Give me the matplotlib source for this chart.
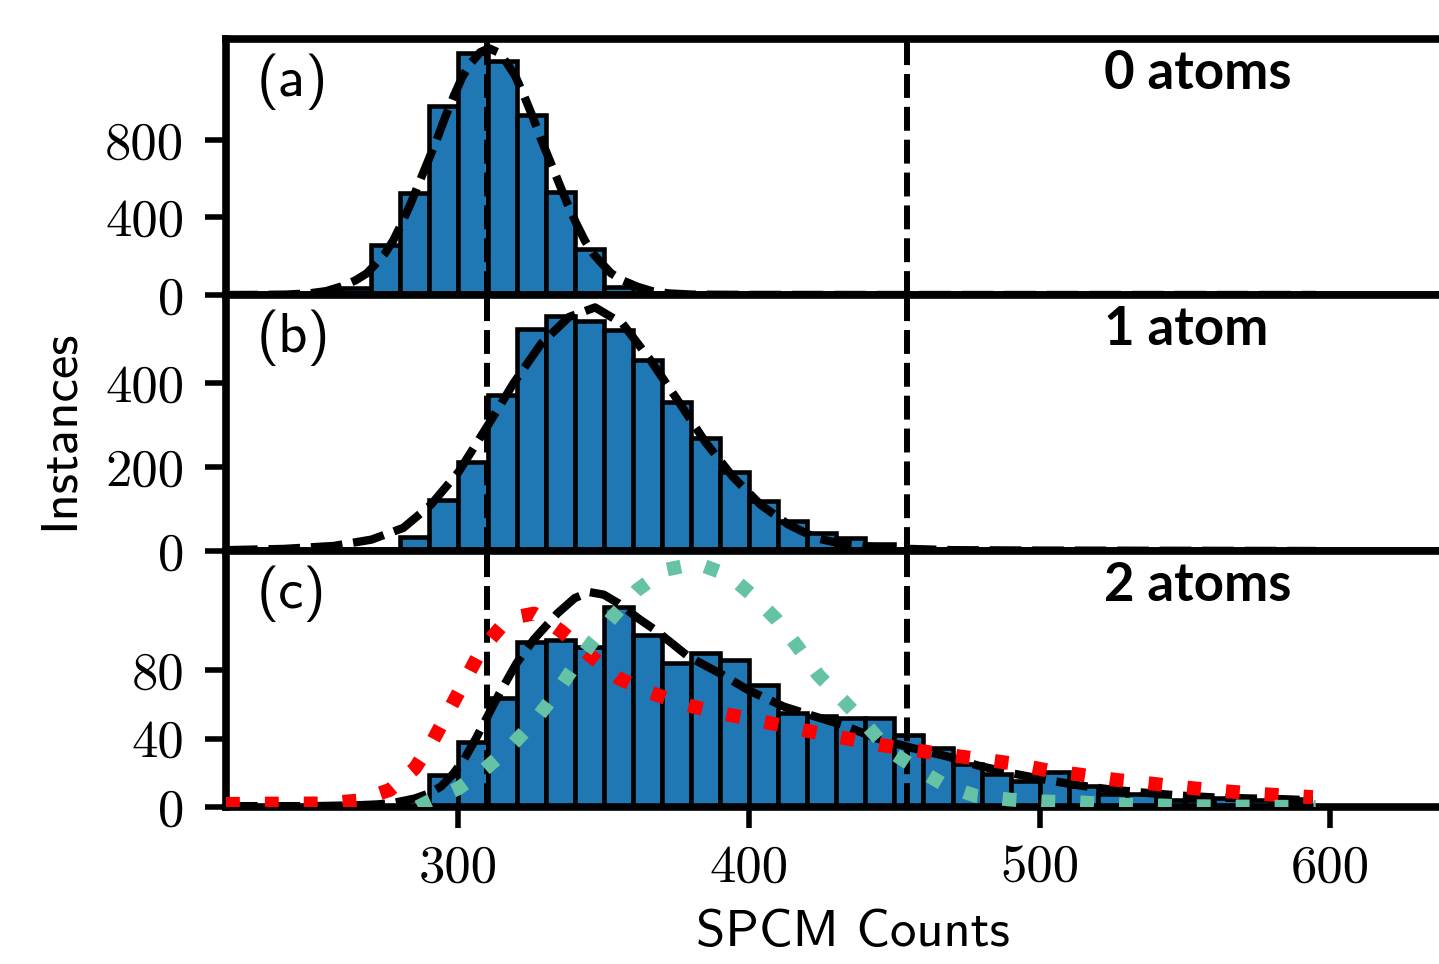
import matplotlib
matplotlib.use("Agg")
import matplotlib.pyplot as plt

plt.rcParams['axes.unicode_minus'] = False

# ---------------- data ----------------
bin_width = 10
# left edges of the histogram bins
bins_a = [250, 260, 270, 280, 290, 300, 310, 320, 330, 340, 350, 360]
counts_a = [2, 35, 258, 525, 972, 1248, 1207, 927, 530, 237, 40, 5]

bins_b = [270, 280, 290, 300, 310, 320, 330, 340, 350, 360, 370, 380, 390,
          400, 410, 420, 430, 440, 450]
counts_b = [3, 34, 121, 213, 372, 529, 559, 547, 527, 455, 354, 270, 188,
            118, 72, 43, 31, 16, 5]

bins_c = [290, 300, 310, 320, 330, 340, 350, 360, 370, 380, 390, 400, 410,
          420, 430, 440, 450, 460, 470, 480, 490, 500, 510, 520, 530, 540,
          550, 560, 570, 580, 590]
counts_c = [18.7, 38.1, 63.4, 96.5, 97.5, 93.6, 117, 100.4, 83.9, 89.7, 85.8,
            71.5, 54.7, 53, 52, 52, 42, 34.5, 25, 19.4, 15, 20.4, 12.2, 7.5,
            7.5, 4, 4, 5.3, 4, 4.5, 0.5]

# fitted curves (x in counts, y in instances)
fit_a_x = [220, 230, 240.5, 248.5, 254.5, 259.5, 264.5, 268.5, 271.5, 274.5,
           277.5, 280.5, 283.5, 286.5, 289.5, 292.5, 295.5, 298.5, 301.5,
           304.5, 307.5, 310.5, 313.5, 316.5, 319.5, 322.5, 325.5, 328.5,
           331.5, 334.5, 337.5, 340.5, 343.5, 346.5, 349.5, 352.5, 356.5,
           361.5, 366.5, 372.5, 380.5, 400, 450, 500, 550, 595]
fit_a_y = [0, 0.5, 2, 8, 20, 43, 75, 112, 160, 210,
           280, 370, 470, 580, 690, 800, 920, 1030, 1130,
           1200, 1252, 1272, 1252, 1200, 1130, 1030, 920, 800,
           690, 580, 470, 370, 280, 210, 160, 112, 75,
           43, 20, 8, 2, 0.5, 0, 0, 0, 0]

fit_b_x = [220, 240, 257, 270, 281, 290.5, 300, 310, 319, 328.5, 338, 347,
           356.5, 366, 376, 385, 394.5, 404, 413.5, 423, 432.5, 445, 455,
           470, 500, 550, 595]
fit_b_y = [2, 5, 12, 27, 55, 110, 188, 298, 400, 494, 557, 580,
           541, 455, 353, 259, 176, 110, 63, 31, 16, 8, 5,
           2, 1, 0.5, 0]

fit_c_x = [220, 250, 265, 272, 278, 285, 290, 294, 298, 302, 306, 310, 314,
           320, 326, 334, 340, 345, 350, 355, 362, 368, 379, 390, 400, 412,
           423, 432, 444, 456, 468, 479, 491, 503, 514, 525, 537, 549, 560,
           572, 583, 594]
fit_c_y = [0.5, 0.5, 1, 1.5, 2.5, 5, 8, 12, 19, 28, 40, 53, 66,
           84, 98, 113, 122, 125.5, 124, 119, 110, 103, 88, 78, 68, 58.6,
           52.7, 48, 40, 34.5, 29.6, 24.1, 19.5, 15.6, 12.5, 10.1, 8.2, 6.6, 5.6,
           5, 4.6, 3.9]

red_x = [220, 231, 242.5, 254, 265.5, 276.4, 285, 291.3, 296.8, 302.3, 307.8,
         315, 320, 326, 331, 335.5, 345.7, 355.2, 365.4, 376.5, 387.5, 399.3,
         410.4, 421.4, 433.2, 445.1, 456, 467.7, 479.7, 491.1, 502.6, 514,
         525.5, 536.9, 548.8, 560.2, 571.6, 583.3, 594]
red_y = [1.8, 2, 2, 2.1, 3.8, 10, 22.6, 39.1, 56.6, 74.1, 91.7,
         106, 111, 113, 108, 102.4, 87.8, 75.1, 67.3, 60.5, 55.7, 51.8,
         47.9, 44, 40.1, 36.2, 33.5, 30.6, 28, 25.3, 21.4, 18.9,
         16, 14, 11.7, 9.7, 8.2, 6.8, 5.8]

green_x = [286, 289.5, 300, 309, 317.3, 326, 333.1, 339.4, 346.5, 353.6,
           361.5, 370.9, 382, 393, 401.7, 409.6, 416.7, 423.8, 431.7, 440.3,
           448.2, 457.5, 467.5, 478, 490, 501.5, 513.5, 525, 550, 595]
green_y = [0, 3, 10.9, 22, 34.2, 49.8, 65.4, 81, 97.5, 112.1,
           126.7, 138.4, 142.3, 135.4, 122.8, 109.2, 93.6, 77.1, 63.4, 47.9,
           32.9, 22.6, 12.6, 6.5, 4.3, 3.2, 2.8, 1.5, 0.5, 0]

thresholds = [309.7, 454.3]

ylims = [1320, 609.5, 149.5]
yticks = [[0, 400, 800], [0, 200, 400], [0, 40, 80]]
xticks = [300, 400, 500, 600]
panel_labels = ['(a)', '(b)', '(c)']
atom_labels = ['0 atoms', '1 atom', '2 atoms']

# ---------------- figure ----------------
W, H = 1439, 964
fig = plt.figure(figsize=(W / 100, H / 100), dpi=100)

left = 226 / W
width = (W - 226) / W
h = 256 / H
bottoms = [(H - 295) / H, (H - 551) / H, (H - 807) / H]
xlim = (220, 220 + (W - 226) / 2.906)

blue = '#1f77b4'
fs = 38

all_bins = [bins_a, bins_b, bins_c]
all_counts = [counts_a, counts_b, counts_c]
fits = [(fit_a_x, fit_a_y), (fit_b_x, fit_b_y), (fit_c_x, fit_c_y)]

for i in range(3):
    ax = fig.add_axes([left, bottoms[i], width, h])
    ax.bar(all_bins[i], all_counts[i], width=bin_width, align='edge',
           color=blue, edgecolor='black', linewidth=3.3, zorder=2)
    for t in thresholds:
        ax.axvline(t, color='black', lw=4.3, linestyle=(0, (4.0, 1.5)), zorder=3)
    fx, fy = fits[i]
    ax.plot(fx, fy, color='black', lw=6, linestyle=(0, (3.8, 1.3)), zorder=4)
    if i == 2:
        ax.plot(red_x, red_y, color='#ff0000', lw=10,
                linestyle=(0, (1, 1.8)), zorder=5)
        ax.plot(green_x, green_y, color='#66c2a5', lw=10,
                linestyle=(0, (1, 1.8)), zorder=6)
    ax.set_xlim(*xlim)
    ax.set_ylim(0, ylims[i])
    ax.set_yticks(yticks[i])
    ax.set_yticklabels([str(v) for v in yticks[i]])
    for s in ['left', 'top', 'bottom']:
        ax.spines[s].set_linewidth(5.5)
    ax.spines['right'].set_visible(False)
    ax.tick_params(axis='y', which='major', direction='out', length=15,
                   width=4, pad=15, labelsize=fs, labelfontfamily='cmr10')
    if i == 2:
        ax.set_xticks(xticks)
        ax.set_xticklabels([str(v) for v in xticks])
        ax.tick_params(axis='x', which='major', direction='out', length=15,
                       width=4, pad=12, labelsize=fs,
                       labelfontfamily='cmr10')
    else:
        ax.set_xticks([])
    ax.text(0.025, 0.832, panel_labels[i], transform=ax.transAxes,
            ha='left', va='center', fontsize=fs + 3, fontfamily='cmss10')
    ax.text(0.724, 0.803, atom_labels[i], transform=ax.transAxes,
            ha='left', va='baseline', fontsize=fs, fontfamily='Lato',
            fontweight='bold')

fig.text(60 / W, 1 - 430 / H, 'Instances', rotation=90, ha='center',
         va='center', fontsize=fs, fontfamily='cmss10')
fig.text(853 / W, 1 - 933 / H, 'SPCM Counts', ha='center', va='center',
         fontsize=fs, fontfamily='cmss10')

fig.savefig('out.png', dpi=100)
